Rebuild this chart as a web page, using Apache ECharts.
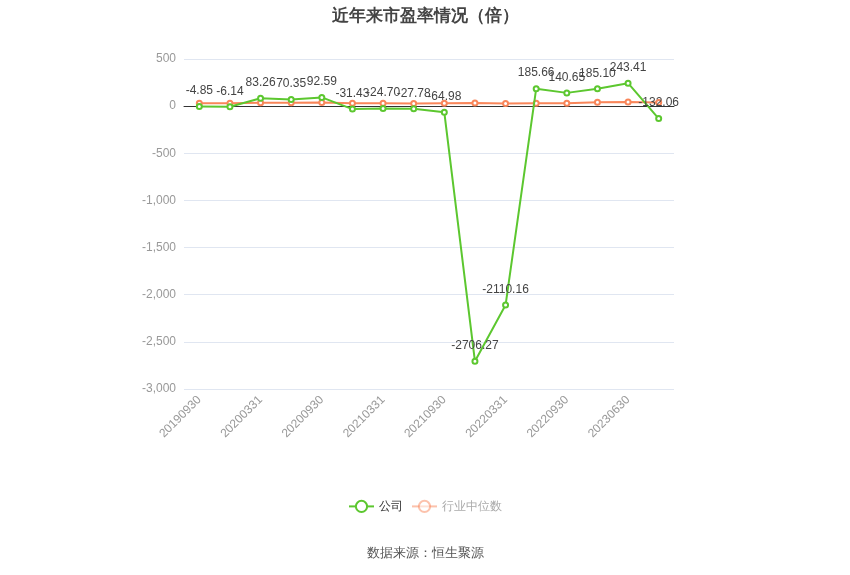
<!DOCTYPE html>
<html>
<head>
<meta charset="utf-8">
<script src="https://cdn.jsdelivr.net/npm/echarts@6/dist/echarts.min.js"></script>
<style>
  html, body { margin: 0; padding: 0; background: #fff; }
  #main { width: 850px; height: 575px; }
</style>
</head>
<body>
<div id="main"></div>
<script>
const categories = ['20190930', '20191231', '20200331', '20200630', '20200930', '20201231',
  '20210331', '20210630', '20210930', '20211231', '20220331', '20220630',
  '20220930', '20221231', '20230630', '20230930'];
const companyPE = [-4.85, -6.14, 83.26, 70.35, 92.59, -31.43, -24.70, -27.78,
  -64.98, -2706.27, -2110.16, 185.66, 140.65, 185.10, 243.41, -132.06];
const industryPE = [30, 30, 35, 35, 38, 30, 32, 27, 32, 33, 27, 30, 30, 42, 45, 38];

const green = '#5cc72f';
const orange = '#f9865a';

const chart = echarts.init(document.getElementById('main'));
chart.setOption({
  animation: false,
  title: {
    text: '近年来市盈率情况（倍）',
    left: 'center',
    top: 3,
    textStyle: { fontSize: 17, fontWeight: 'bold', color: '#444' }
  },
  grid: { left: 184, right: 176, top: 59, bottom: 186 },
  legend: {
    bottom: 57,
    left: 'center',
    itemWidth: 25,
    itemHeight: 14,
    textStyle: { fontSize: 12 },
    data: [
      { name: '公司', textStyle: { color: '#333' } },
      { name: '行业中位数', textStyle: { color: '#aaa' }, itemStyle: { opacity: 0.5 }, lineStyle: { opacity: 0.5 } }
    ]
  },
  xAxis: {
    type: 'category',
    data: categories,
    boundaryGap: true,
    axisLine: { onZero: true, lineStyle: { color: '#333' } },
    axisTick: { alignWithLabel: true, interval: 1, lineStyle: { color: '#333' } },
    axisLabel: { interval: 1, rotate: 45, color: '#999', fontSize: 12, margin: 9 }
  },
  yAxis: {
    type: 'value',
    min: -3000,
    max: 500,
    interval: 500,
    axisLine: { show: false },
    axisTick: { show: false },
    axisLabel: { color: '#999', fontSize: 12 },
    splitLine: { lineStyle: { color: '#e0e6f1' } }
  },
  series: [
    {
      name: '公司',
      type: 'line',
      data: companyPE,
      symbol: 'circle',
      symbolSize: 5,
      showAllSymbol: true,
      itemStyle: { color: '#fff', borderColor: green, borderWidth: 2 },
      lineStyle: { color: green, width: 2 },
      label: {
        show: true,
        position: 'top',
        distance: 6,
        color: '#444',
        fontSize: 12,
        formatter: p => p.value.toFixed(2)
      },
      z: 3
    },
    {
      name: '行业中位数',
      type: 'line',
      data: industryPE,
      symbol: 'circle',
      symbolSize: 5,
      showAllSymbol: true,
      itemStyle: { color: '#fff', borderColor: orange, borderWidth: 2 },
      lineStyle: { color: orange, width: 2 },
      z: 2
    }
  ],
  graphic: [{
    type: 'text',
    left: 'center',
    top: 547,
    style: { text: '数据来源：恒生聚源', fill: '#555', fontSize: 13 }
  }]
});
</script>
</body>
</html>
